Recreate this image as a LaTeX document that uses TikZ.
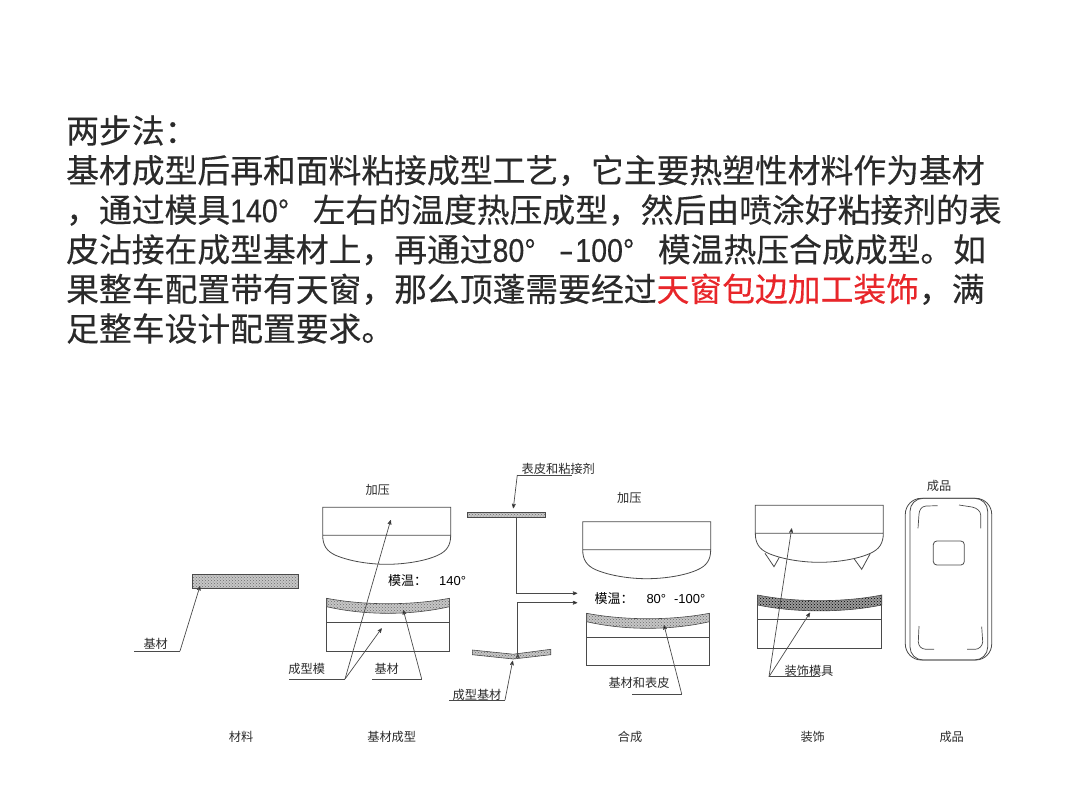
\documentclass[tikz,border=0pt]{standalone}
\usepackage{fontspec}
\setmainfont{Noto Sans CJK SC}
\newfontfamily\parafont[FakeBold=0.3]{Noto Sans CJK SC}
\newfontfamily\latinfont{Liberation Sans}
\newfontfamily\numfont[FakeStretch=0.87,FakeBold=0.3]{Liberation Sans}
\usetikzlibrary{arrows,patterns}
\definecolor{inkline}{HTML}{4A4A4A}
\definecolor{inktext}{HTML}{2A2A2A}
\definecolor{hilite}{HTML}{E8262A}
\newcommand{\num}[1]{{\numfont #1}}
\tikzset{
	para/.style={anchor=base west,inner sep=0pt,font=\parafont\fontsize{32.8}{36}\selectfont,text=inktext},
	tag/.style={inner sep=0pt,font=\fontsize{12.2}{14}\selectfont,text=inktext},
	temp/.style={anchor=west,inner sep=0pt,font=\fontsize{13}{15}\selectfont,text=black},
	mould/.style={draw=inkline,line width=0.8pt},
	leader/.style={draw=inkline,line width=0.7pt},
	sheet/.style={draw=inkline,line width=0.6pt,preaction={fill=gray!45},pattern=crosshatch dots,pattern color=gray!85!black},
	sheetdark/.style={draw=inkline,line width=0.6pt,preaction={fill=gray!80},pattern=crosshatch dots,pattern color=black}
}

\begin{document}
\begin{tikzpicture}[x=1pt,y=-1pt,>=stealth']
  \useasboundingbox (0,0) rectangle (1076,807);

  % paragraph
  \node[para] (LineA) at (66,143) {两步法：};
  \node[para] (LineB) at (66,182.6) {基材成型后再和面料粘接成型工艺，它主要热塑性材料作为基材};
  \node[para] (LineC) at (66,222.2) {，通过模具\num{140}\makebox[35pt][l]{\num{°}}左右的温度热压成型，然后由喷涂好粘接剂的表};
  \node[para] (LineD) at (66,261.8) {皮沾接在成型基材上，再通过\num{80}\makebox[33pt][l]{\num{°}}\makebox[18pt][c]{\scalebox{1.6}[1]{\num{-}}}\num{100}\makebox[35pt][l]{\num{°}}模温热压合成成型。如};
  \node[para] (LineE) at (66,301.4) {果整车配置带有天窗，那么顶蓬需要经过\textcolor{hilite}{天窗包边加工装饰}，满};
  \node[para] (LineF) at (66,341) {足整车设计配置要求。};

  % material
  \draw[sheet] (192.7,574.3) rectangle (298.3,588.3);
  \node[tag] (TagBase) at (155.7,644) {基材};
  \coordinate (BaseL) at (134,651);
  \coordinate (BaseR) at (180,651);
  \coordinate (BaseTip) at (200,586);
  \node[tag] (StepMaterial) at (241,736.7) {材料};

  % forming
  \node[tag] (PressA) at (377.7,490) {加压};
  \draw[mould,shift={(322.7,507.3)}] (0,28) -- (0,0) -- (128,0) -- (128,28) -- cycle
	(0,28) .. controls (0,38) and (4,44) .. (13,48) .. controls (27,54) and (47,57) .. (64,57) .. controls (81,57) and (102,54) .. (115,48) .. controls (124,44) and (128,38) .. (128,28);
  \draw[mould] (326.7,598.3) -- (326.7,650.9) -- (449.3,650.9) -- (449.3,598.3) (326.7,622.3) -- (449.3,622.3);
  \draw[sheet] (326.7,598.3) .. controls (365,605.5) and (411,605.5) .. (449.3,598.3) -- (449.3,606.7) .. controls (411,615.5) and (365,615.5) .. (326.7,606.7) -- cycle;
  \node[temp] (TempA) at (388,581) {模温：\hspace{12pt}{\latinfont 140°}};
  \node[tag] (TagMould) at (306.7,669) {成型模};
  \coordinate (MouldL) at (289.3,679);
  \coordinate (MouldR) at (345,679);
  \coordinate (MouldTipA) at (390.7,520);
  \coordinate (MouldTipB) at (381.7,628.3);
  \node[tag] (TagSheet) at (386.7,669.3) {基材};
  \coordinate (SheetL) at (372.3,679);
  \coordinate (SheetR) at (421.7,679);
  \coordinate (SheetTip) at (403.3,610);
  \node[tag] (StepForming) at (391.7,736.7) {基材成型};

  % skin and formed base
  \node[tag] (TagSkin) at (558.3,469.3) {表皮和粘接剂};
  \coordinate (SkinR) at (572.3,475);
  \coordinate (SkinL) at (517.3,475);
  \coordinate (SkinTip) at (513.3,508.3);
  \draw[sheet] (467.7,512.3) rectangle (545.7,517.7);
  \coordinate (SkinOut) at (516.7,517.7);
  \coordinate (SkinIn) at (577.3,593.3);
  \draw[sheet] (472.3,650) -- (513.3,654.2) -- (550.7,649.3) -- (550.7,654.7) -- (513.3,659) -- (472.3,654.7) -- cycle;
  \coordinate (FormedOut) at (517.7,653.6);
  \coordinate (FormedIn) at (577.3,602.7);
  \node[tag] (TagFormed) at (477,695) {成型基材};
  \coordinate (FormedL) at (449.3,700);
  \coordinate (FormedR) at (505,700);
  \coordinate (FormedTip) at (512.7,660.7);

  % laminating
  \node[tag] (PressB) at (629.3,497.7) {加压};
  \draw[mould,shift={(582.7,521.7)}] (0,28) -- (0,0) -- (128,0) -- (128,28) -- cycle
	(0,28) .. controls (0,38) and (4,44) .. (13,48) .. controls (27,54) and (47,57) .. (64,57) .. controls (81,57) and (102,54) .. (115,48) .. controls (124,44) and (128,38) .. (128,28);
  \draw[mould] (586.7,613.3) -- (586.7,665.3) -- (709.3,665.3) -- (709.3,613.3) (586.7,637.3) -- (709.3,637.3);
  \draw[sheet] (586.7,613.3) .. controls (625,620.5) and (671,620.5) .. (709.3,613.3) -- (709.3,621.7) .. controls (671,630.5) and (625,630.5) .. (586.7,621.7) -- cycle;
  \node[temp] (TempB) at (594.3,599) {模温：\hspace{13pt}{\latinfont 80°\hspace{8pt}-100°}};
  \node[tag] (TagLaminate) at (639,683.3) {基材和表皮};
  \coordinate (LaminateL) at (632.3,694);
  \coordinate (LaminateR) at (681.7,694);
  \coordinate (LaminateTip) at (664,625);
  \node[tag] (StepLaminate) at (630,737.3) {合成};

  % trimming
  \draw[mould,fill=white] (765,553.3) -- (774,566.7) -- (779.3,557.3) (854.3,559) -- (861.7,569.3) -- (870,554);
  \draw[mould,shift={(755.3,505.3)}] (0,28) -- (0,0) -- (128,0) -- (128,28) -- cycle
	(0,28) .. controls (0,38) and (4,44) .. (13,48) .. controls (27,54) and (47,57) .. (64,57) .. controls (81,57) and (102,54) .. (115,48) .. controls (124,44) and (128,38) .. (128,28);
  \draw[mould] (757.7,595) -- (757.7,648.3) -- (881.7,648.3) -- (881.7,595) (757.7,619.7) -- (881.7,619.7);
  \draw[sheetdark] (757.7,595) .. controls (795,602.5) and (844,602.5) .. (881.7,595) -- (881.7,605) .. controls (844,612.8) and (795,612.8) .. (757.7,605) -- cycle;
  \node[tag] (TagTrim) at (809,670.7) {装饰模具};
  \coordinate (TrimL) at (769,676.7);
  \coordinate (TrimR) at (820,676.7);
  \coordinate (TrimTipA) at (791.7,528.3);
  \coordinate (TrimTipB) at (810,612.7);
  \node[tag] (StepTrim) at (812.7,736.7) {装饰};

  % product
  \node[tag] (TagProduct) at (939,486) {成品};
  \draw[mould,rounded corners=16pt] (905.3,498.3) rectangle (991.7,660);
  \draw[mould,rounded corners=13pt] (910,498.3) rectangle (987.7,660);
  \draw[mould,rounded corners=3.5pt] (933.3,541) rectangle (964.3,565);
  \draw[leader] (937.7,505.7) -- (926,506) .. controls (921,506.5) and (919.5,510) .. (919,514) -- (918,528.3);
  \draw[leader] (959,505) -- (972,507) .. controls (977,508) and (980.5,511) .. (980.7,515) -- (980.7,528.3);
  \draw[leader] (919,626) -- (918.3,641.7) .. controls (918.5,646) and (921,649) .. (926,649.3) -- (934,649.3);
  \draw[leader] (981.7,626.7) -- (982.7,641.7) .. controls (982.5,646) and (979,649.3) .. (975,649.3) -- (967,649.3);
  \node[tag] (StepProduct) at (951.7,736.7) {成品};

  \path[leader]
	(BaseL) edge (BaseR)
	(MouldL) edge (MouldR)
	(SheetL) edge (SheetR)
	(SkinL) edge (SkinR)
	(FormedL) edge (FormedR)
	(LaminateL) edge (LaminateR)
	(TrimL) edge (TrimR);

  \path[->,leader]
	(BaseR) edge (BaseTip)
	(MouldR) edge (MouldTipA)
	(MouldR) edge (MouldTipB)
	(SheetR) edge (SheetTip)
	(SkinL) edge (SkinTip)
	(FormedR) edge (FormedTip)
	(LaminateR) edge (LaminateTip)
	(TrimL) edge (TrimTipA)
	(TrimL) edge (TrimTipB)
	(SkinOut) edge [to path={|- (\tikztotarget)}] (SkinIn)
	(FormedOut) edge [to path={|- (\tikztotarget)}] (FormedIn)
	; % end of \path
\end{tikzpicture}
\end{document}
